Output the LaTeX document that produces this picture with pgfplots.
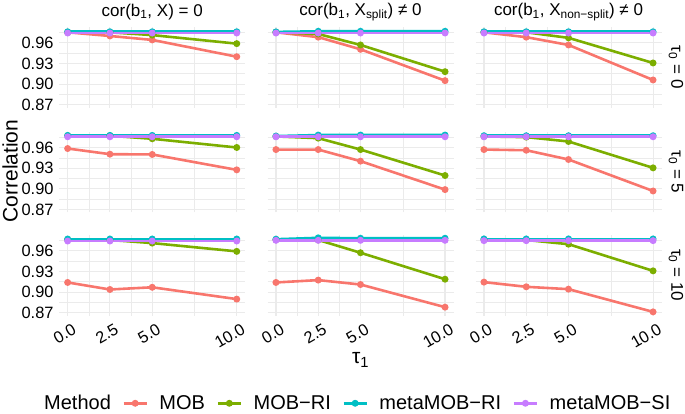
\documentclass[border=0pt]{standalone}
\usepackage{fontspec}
\setmainfont{Liberation Sans}
\usepackage{pgfplots}
\pgfplotsset{compat=1.18}
\definecolor{cMOB}{HTML}{F8766D}
\definecolor{cRI}{HTML}{7CAE00}
\definecolor{cMRI}{HTML}{00BFC4}
\definecolor{cMSI}{HTML}{C77CFF}
\definecolor{gridc}{HTML}{EBEBEB}
\newcommand\tickfont{\fontsize{16.4bp}{18bp}\selectfont}
\newcommand\stripfont{\fontsize{17bp}{19bp}\selectfont}
\newcommand\titlefont{\fontsize{21bp}{23bp}\selectfont}
\newcommand\legfont{\fontsize{20bp}{22bp}\selectfont}
\pgfplotsset{
  panel/.style={
    scale only axis, width=186bp, height=80.8bp, anchor=north west,
    xmin=-0.5, xmax=10.5, ymin=0.866, ymax=0.983,
    axis line style={draw=none}, tick style={draw=none},
    xtick={0,2.5,5,10}, minor xtick={1.25,3.75,7.5},
    ytick={0.87,0.90,0.93,0.96}, minor ytick={0.885,0.915,0.945,0.975},
    grid=both,
    major grid style={color=gridc, line width=1.1bp},
    minor grid style={color=gridc, line width=0.55bp},
    xticklabels={}, yticklabels={},
    clip=false,
  },
  ylab/.style={yticklabels={0.87,0.90,0.93,0.96},
    yticklabel style={font=\tickfont, inner sep=0pt, anchor=east, xshift=-5.5bp}},
  xlab/.style={xticklabels={0.0,2.5,5.0,10.0},
    xticklabel style={font=\tickfont, inner sep=0pt, xshift=4bp, yshift=-7bp, rotate=30, anchor=north east}},
  ser/.style={line width=2.6bp, mark=*, mark size=2.1bp, mark options={solid}},
}
\newcommand\fourplots[4]{%
  \addplot[ser, color=cMOB] coordinates {#1};
  \addplot[ser, color=cRI] coordinates {#2};
  \addplot[ser, color=cMRI] coordinates {#3};
  \addplot[ser, color=cMSI] coordinates {#4};
}
\begin{document}
\begin{tikzpicture}
\useasboundingbox (0,0) rectangle (685bp,414bp);
% ---------- Row 1 : tau0 = 0
\begin{axis}[panel, ylab, at={(59.2bp,387.2bp)}]
\fourplots{(0,0.975)(2.5,0.9697)(5,0.964)(10,0.9397)}
{(0,0.975)(2.5,0.975)(5,0.971)(10,0.9586)}
{(0,0.9758)(2.5,0.9758)(5,0.9758)(10,0.9758)}
{(0,0.974)(2.5,0.974)(5,0.974)(10,0.974)}
\end{axis}
\begin{axis}[panel, at={(267.5bp,387.2bp)}]
\fourplots{(0,0.975)(2.5,0.968)(5,0.9504)(10,0.905)}
{(0,0.975)(2.5,0.9726)(5,0.9567)(10,0.918)}
{(0,0.9756)(2.5,0.9765)(5,0.9765)(10,0.9765)}
{(0,0.974)(2.5,0.974)(5,0.974)(10,0.974)}
\end{axis}
\begin{axis}[panel, at={(475.5bp,387.2bp)}]
\fourplots{(0,0.975)(2.5,0.968)(5,0.9567)(10,0.906)}
{(0,0.975)(2.5,0.975)(5,0.967)(10,0.9306)}
{(0,0.9758)(2.5,0.9758)(5,0.9758)(10,0.9758)}
{(0,0.974)(2.5,0.974)(5,0.974)(10,0.974)}
\end{axis}
% ---------- Row 2 : tau0 = 5
\begin{axis}[panel, ylab, at={(59.2bp,282.4bp)}]
\fourplots{(0,0.9585)(2.5,0.9503)(5,0.9499)(10,0.9276)}
{(0,0.977)(2.5,0.977)(5,0.9726)(10,0.960)}
{(0,0.9775)(2.5,0.9775)(5,0.9775)(10,0.9775)}
{(0,0.9755)(2.5,0.9755)(5,0.9755)(10,0.9755)}
\end{axis}
\begin{axis}[panel, at={(267.5bp,282.4bp)}]
\fourplots{(0,0.957)(2.5,0.957)(5,0.9402)(10,0.899)}
{(0,0.976)(2.5,0.9735)(5,0.957)(10,0.9194)}
{(0,0.9765)(2.5,0.978)(5,0.978)(10,0.978)}
{(0,0.9755)(2.5,0.9755)(5,0.9755)(10,0.9755)}
\end{axis}
\begin{axis}[panel, at={(475.5bp,282.4bp)}]
\fourplots{(0,0.957)(2.5,0.956)(5,0.9426)(10,0.897)}
{(0,0.976)(2.5,0.975)(5,0.9687)(10,0.9305)}
{(0,0.977)(2.5,0.977)(5,0.977)(10,0.977)}
{(0,0.9755)(2.5,0.9755)(5,0.9755)(10,0.9755)}
\end{axis}
% ---------- Row 3 : tau0 = 10
\begin{axis}[panel, ylab, xlab, at={(59.2bp,179.2bp)}]
\fourplots{(0,0.914)(2.5,0.9038)(5,0.907)(10,0.8899)}
{(0,0.976)(2.5,0.9755)(5,0.971)(10,0.959)}
{(0,0.9769)(2.5,0.9769)(5,0.9769)(10,0.9769)}
{(0,0.974)(2.5,0.974)(5,0.974)(10,0.974)}
\end{axis}
\begin{axis}[panel, xlab, at={(267.5bp,179.2bp)},
  legend columns=-1,
  legend style={draw=none, fill=none, font=\legfont, at={(0.457,-1.085)}, anchor=center,
    column sep=0pt,
    /tikz/every odd column/.append style={column sep=9.5bp},
    /tikz/every even column/.append style={column sep=9.5bp}},
  legend image code/.code={\draw[mark repeat=2, mark phase=2, #1] plot coordinates {(0bp,0bp) (11.5bp,0bp) (23bp,0bp)};},
  legend entries={Method, MOB, MOB−RI, metaMOB−RI, metaMOB−SI}]
\addlegendimage{empty legend}
\fourplots{(0,0.914)(2.5,0.9174)(5,0.911)(10,0.8782)}
{(0,0.976)(2.5,0.9755)(5,0.957)(10,0.9187)}
{(0,0.9766)(2.5,0.9786)(5,0.978)(10,0.978)}
{(0,0.975)(2.5,0.975)(5,0.975)(10,0.975)}
\end{axis}
\begin{axis}[panel, xlab, at={(475.5bp,179.2bp)}]
\fourplots{(0,0.9145)(2.5,0.9077)(5,0.9043)(10,0.8714)}
{(0,0.976)(2.5,0.9755)(5,0.9694)(10,0.9308)}
{(0,0.977)(2.5,0.977)(5,0.977)(10,0.977)}
{(0,0.9745)(2.5,0.9745)(5,0.9745)(10,0.9745)}
\end{axis}
% ---------- strip labels
\node[font=\stripfont] at (152.2bp,402bp) {cor(b\textsubscript{1}, X) = 0};
\node[font=\stripfont] at (360.5bp,402bp) {cor(b\textsubscript{1}, X\textsubscript{split}) ≠ 0};
\node[font=\stripfont] at (568.5bp,402bp) {cor(b\textsubscript{1}, X\textsubscript{non−split}) ≠ 0};
\node[font=\stripfont, rotate=-90] at (676bp,346.8bp) {τ\textsubscript{0} = 0};
\node[font=\stripfont, rotate=-90] at (676bp,242bp) {τ\textsubscript{0} = 5};
\node[font=\stripfont, rotate=-90] at (676bp,138.8bp) {τ\textsubscript{0} = 10};
% ---------- axis titles
\node[font=\titlefont, rotate=90] at (10bp,243bp) {Correlation};
\node[font=\titlefont] at (360.5bp,54bp) {τ\textsubscript{1}};
\end{tikzpicture}
\end{document}
